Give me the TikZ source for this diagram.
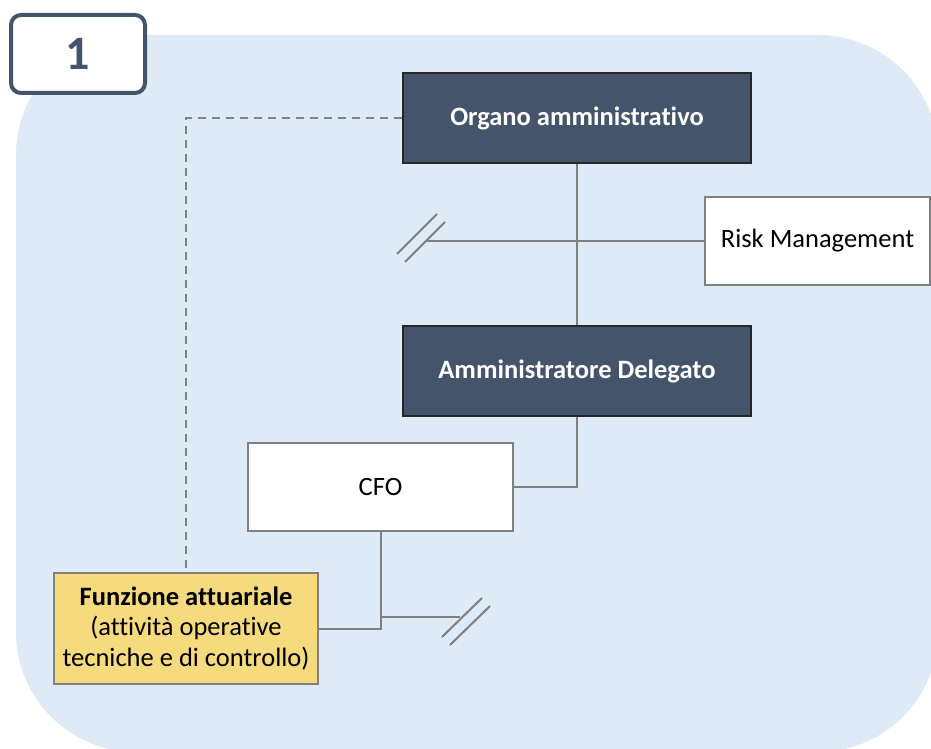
\documentclass[tikz,border=0pt]{standalone}
\usepackage{fontspec}
\setmainfont{Carlito}[Ligatures=NoCommon]
\definecolor{slate}{HTML}{44546A}
\definecolor{skyback}{HTML}{DEEAF6}
\definecolor{goldbox}{HTML}{F6DA7E}
\definecolor{linkgray}{HTML}{808080}
\tikzset{
  darkbox/.style={draw=black!85, line width=1.2pt, fill=slate, text=white,
    font=\bfseries\fontsize{26.5}{31}\selectfont, minimum width=348pt,
    minimum height=90pt, inner sep=0pt},
  whitebox/.style={draw=linkgray, line width=1.3pt, fill=white,
    font=\fontsize{26.5}{31}\selectfont, minimum height=88pt, inner sep=0pt},
  goldnode/.style={draw=linkgray, line width=1.3pt, fill=goldbox, align=center,
    font=\fontsize{26.5}{30.5}\selectfont, minimum width=264pt,
    minimum height=111pt, inner sep=0pt},
  numbox/.style={draw=slate, line width=4pt, rounded corners=10pt, fill=white,
    text=slate, font=\bfseries\fontsize{48}{54}\selectfont,
    minimum width=134pt, minimum height=78pt, inner sep=0pt},
  link/.style={draw=linkgray, line width=2pt},
  dashlink/.style={draw=linkgray, line width=2pt, dash pattern=on 8pt off 6pt}
}
\begin{document}
\begin{tikzpicture}[x=1pt,y=-1pt]
        \useasboundingbox (0,0) rectangle (931,749);
        %% background panel
        \begin{scope}
            \clip (0,0) rectangle (931,749);
            \fill[skyback,rounded corners=120pt] (16,35) rectangle (938,752);
        \end{scope}
        %% number tab
        \node[numbox] (num) at (78,54) {1};
        %% boxes
        \node[darkbox] (organo) at (577,118) {Organo amministrativo};
        \node[whitebox,minimum width=225pt] (risk) at (817.5,241) {Risk Management};
        \node[darkbox] (ammin) at (577,371) {Amministratore Delegato};
        \node[whitebox,minimum width=265pt] (cfo) at (380.5,487) {CFO};
        \node[goldnode] (funz) at (186,628.5)
            {\textbf{Funzione attuariale}\\(attività operative\\tecniche e di controllo)};
        %% lines
        \draw[link] (organo.south) -- (ammin.north);
        \coordinate (rmcut) at (427,241);
        \draw[link] (rmcut) -- (risk.west);
        \draw[link] (rmcut) ++(-22,21) -- ++(40,-40);
        \draw[link] (rmcut) ++(-30,13) -- ++(40,-40);
        \draw[link] (ammin.south) |- (cfo.east);
        \draw[link] (cfo.south) |- (funz.east);
        \coordinate (split) at (cfo.south |- 0,617);
        \coordinate (fcut) at (460,617);
        \draw[link] (split) -- (fcut);
        \draw[link] (fcut) ++(-18,20) -- ++(40,-39);
        \draw[link] (fcut) ++(-10,28) -- ++(40,-39);
        %% dashed link
        \draw[dashlink] (organo.west) -| (funz.north);
\end{tikzpicture}
\end{document}
